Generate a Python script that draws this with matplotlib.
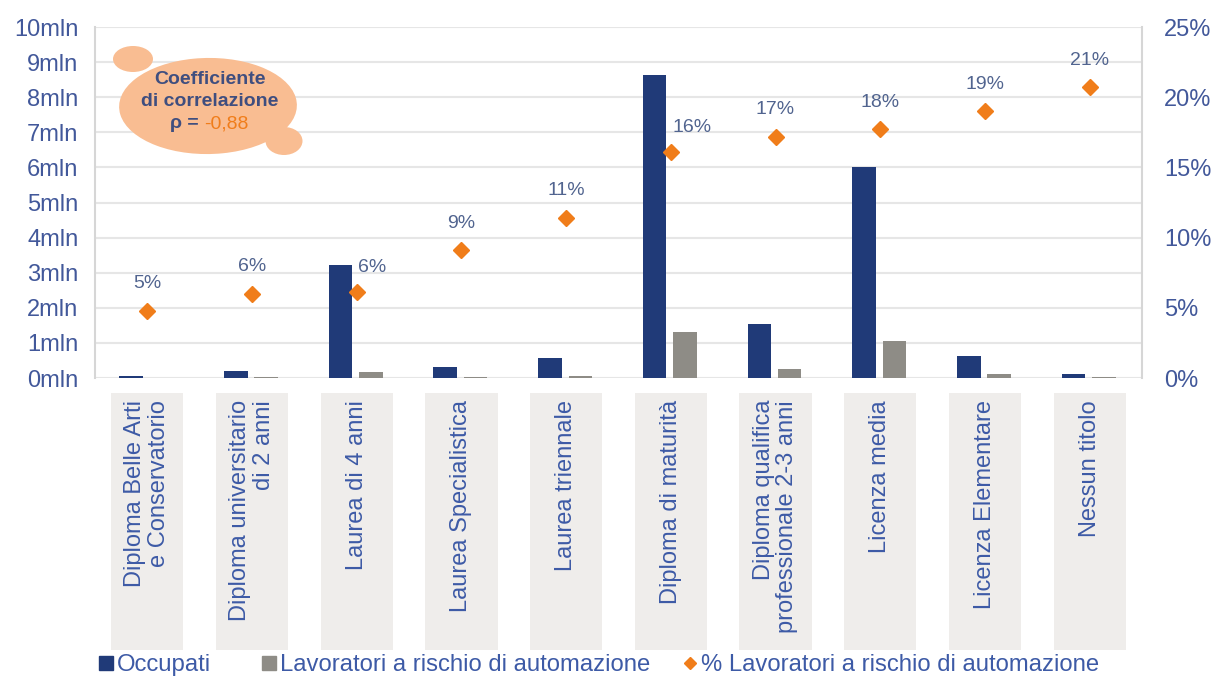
import numpy as np
import matplotlib.pyplot as plt
import matplotlib.transforms as mtransforms
from matplotlib.patches import Ellipse, Rectangle
from matplotlib.lines import Line2D

plt.rcParams['font.family'] = ['Liberation Sans', 'DejaVu Sans']

categories = ["Diploma Belle Arti\ne Conservatorio", "Diploma universitario\ndi 2 anni",
              "Laurea di 4 anni", "Laurea Specialistica", "Laurea triennale",
              "Diploma di maturità", "Diploma qualifica\nprofessionale 2-3 anni",
              "Licenza media", "Licenza Elementare", "Nessun titolo"]
occupati = [0.07, 0.20, 3.22, 0.32, 0.57, 8.63, 1.54, 6.01, 0.63, 0.10]       # mln
a_rischio = [0.01, 0.015, 0.17, 0.03, 0.06, 1.31, 0.26, 1.05, 0.10, 0.02]     # mln
pct_rischio = [4.8, 6.0, 6.1, 9.1, 11.4, 16.1, 17.2, 17.7, 19.0, 20.7]        # %
left_ticks = list(range(0, 11))
right_ticks = [0, 5, 10, 15, 20, 25]

NAVY = "#203a78"
GREY = "#8e8c86"
ORANGE = "#f07d1a"
TXT = "#42589a"
GRID = "#e6e6e6"

W, H = 1214, 684
fig = plt.figure(figsize=(W / 100, H / 100), dpi=100)


def px(x, y):
    # pixel position (from top-left) -> figure fraction
    return x / W, 1 - y / H


ax = fig.add_axes([95 / W, 1 - 378 / H, (1142 - 95) / W, (378 - 27) / H])
x = np.arange(len(categories))

ax.bar(x - 0.155, occupati, width=0.225, color=NAVY, zorder=3)
ax.bar(x + 0.135, a_rischio, width=0.225, color=GREY, zorder=3)

ax.set_xlim(-0.5, len(categories) - 0.5)
ax.set_ylim(0, 10)
ax.set_yticks(left_ticks)
ax.set_yticklabels([f"{t}mln" for t in left_ticks])
ax.set_xticks([])
ax.yaxis.grid(True, color=GRID, lw=1.5, zorder=0)
ax.set_axisbelow(True)
ax.tick_params(axis='y', length=0, pad=12, labelsize=17, labelcolor=TXT)
for s in ["top", "bottom"]:
    ax.spines[s].set_visible(False)
for s in ["left", "right"]:
    ax.spines[s].set_color("#d6d6d6")
    ax.spines[s].set_linewidth(1.5)

ax2 = ax.twinx()
ax2.set_ylim(0, 25)
ax2.set_yticks(right_ticks)
ax2.set_yticklabels([f"{t}%" for t in right_ticks])
ax2.tick_params(axis='y', length=0, pad=16, labelsize=17, labelcolor=TXT)
for s in ax2.spines.values():
    s.set_visible(False)
ax2.plot(x, pct_rischio, ls="none", marker="D", ms=8.5, color=ORANGE, zorder=4)

# labels that would sit on top of a bar are nudged to the right
label_shift = {2: (15, 25), 5: (21, 24)}
for i, v in enumerate(pct_rischio):
    dx, dy = label_shift.get(i, (0, 27))
    ax2.annotate(f"{round(v):d}%", (i, v), xytext=(dx, dy), textcoords="offset pixels",
                 ha="center", va="center", fontsize=14, color="#51648f")

# category labels on grey panels below the plot
blend = mtransforms.blended_transform_factory(ax.transData, fig.transFigure)
y_bot, y_top = px(0, 650)[1], px(0, 393)[1]
for i, lab in enumerate(categories):
    ax.add_patch(Rectangle((i - 0.345, y_bot), 0.69, y_top - y_bot, transform=blend,
                           facecolor="#efedeb", edgecolor="none", clip_on=False))
    ax.text(i, px(0, 400)[1], lab, transform=blend, rotation=90, ha="center", va="top",
            multialignment="right", fontsize=17, color="#3d5aa6", linespacing=1.1)

# correlation bubble
bubble = "#f9bd92"
for (cx, cy), w, h, ang in [((208, 106), 178, 96, 10), ((133, 59), 40, 26, 0), ((284, 141), 37, 28, 0)]:
    fx, fy = px(cx, cy)
    fig.patches.append(Ellipse((fx, fy), w / W, h / H, angle=ang, transform=fig.transFigure,
                               facecolor=bubble, edgecolor="none", zorder=5))
fig.text(*px(210, 80), "Coefficiente", ha="center", va="center", fontsize=14,
         fontweight="bold", color="#3f4e7f", zorder=6)
fig.text(*px(210, 101), "di correlazione", ha="center", va="center", fontsize=14,
         fontweight="bold", color="#3f4e7f", zorder=6)
fig.text(*px(199, 124), "ρ =", ha="right", va="center", fontsize=14,
         fontweight="bold", color="#3f4e7f", zorder=6)
fig.text(*px(204, 124), "-0,88", ha="left", va="center", fontsize=14,
         color=ORANGE, zorder=6)

# legend: one entry per block so each sits where it belongs
entries = [(Line2D([], [], ls="none", marker="s", ms=9.5, color=NAVY), "Occupati", 99),
           (Line2D([], [], ls="none", marker="s", ms=9.5, color=GREY),
            "Lavoratori a rischio di automazione", 262),
           (Line2D([], [], ls="none", marker="D", ms=6.5, color=ORANGE),
            "% Lavoratori a rischio di automazione", 683)]
for h, lab, xpos in entries:
    fig.legend([h], [lab], loc="center left", bbox_to_anchor=px(xpos, 665),
               frameon=False, fontsize=17.2, labelcolor="#3d5aa6", handlelength=0.6,
               handletextpad=0.15, borderpad=0, borderaxespad=0)

fig.savefig("out.png", dpi=100)
